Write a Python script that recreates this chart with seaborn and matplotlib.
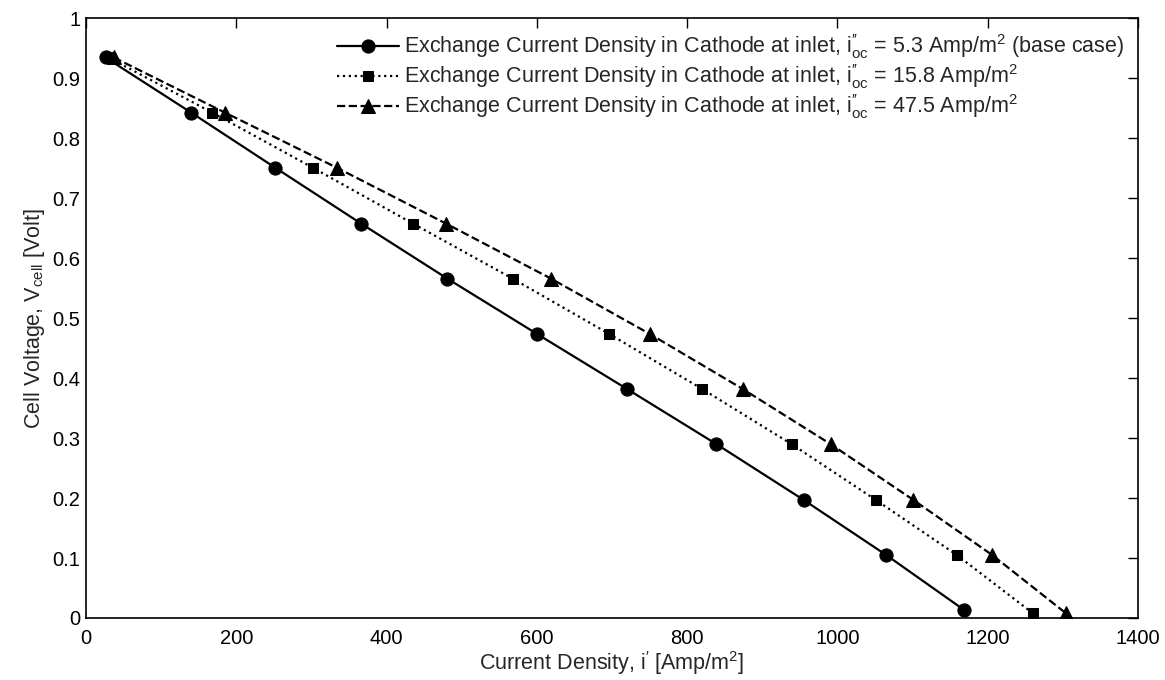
import matplotlib
matplotlib.use("Agg")
import matplotlib.pyplot as plt
import seaborn as sns
import pandas as pd

# Polarization curves for three cathode exchange current densities
voltage = [0.935, 0.843, 0.751, 0.658, 0.566, 0.474, 0.382, 0.290, 0.197, 0.105, 0.013]
current_base = [26, 140, 252, 366, 481, 600, 720, 839, 955, 1065, 1169]
current_mid = [30, 168, 302, 435, 568, 696, 820, 939, 1051, 1159, 1260]
current_high = [37, 185, 334, 479, 619, 750, 874, 991, 1101, 1206, 1304]
voltage_end = [0.935, 0.843, 0.751, 0.658, 0.566, 0.474, 0.382, 0.290, 0.197, 0.105, 0.008]

x_ticks = [0, 200, 400, 600, 800, 1000, 1200, 1400]
y_ticks = [0, 0.1, 0.2, 0.3, 0.4, 0.5, 0.6, 0.7, 0.8, 0.9, 1]
y_tick_labels = ["0", "0.1", "0.2", "0.3", "0.4", "0.5", "0.6", "0.7", "0.8", "0.9", "1"]

iocs = r"$\mathregular{i^{\prime\prime}_{oc}}$"
labels = [
    f"Exchange Current Density in Cathode at inlet, {iocs} = 5.3 Amp/m$^2$ (base case)",
    f"Exchange Current Density in Cathode at inlet, {iocs} = 15.8 Amp/m$^2$",
    f"Exchange Current Density in Cathode at inlet, {iocs} = 47.5 Amp/m$^2$",
]

sns.set_theme(style="white")
plt.rcParams["font.family"] = ["Liberation Sans", "DejaVu Sans"]
plt.rcParams["mathtext.fontset"] = "custom"
plt.rcParams["mathtext.rm"] = "Liberation Sans"
plt.rcParams["mathtext.it"] = "Liberation Sans"

fig = plt.figure(figsize=(11.65, 6.8), dpi=100)
ax = fig.add_axes([0.0738, 0.0912, 0.903, 0.8816])

series = [
    (current_base, voltage, "-", "o", 9.5),
    (current_mid, voltage_end, ":", "s", 7.5),
    (current_high, voltage_end, "--", "^", 10.5),
]
for (xs, ys, ls, mk, ms), lab in zip(series, labels):
    df = pd.DataFrame({"i": xs, "V": ys})
    sns.lineplot(data=df, x="i", y="V", ax=ax, color="black", linestyle=ls,
                 marker=mk, markersize=ms, markeredgecolor="black",
                 linewidth=1.6, label=lab, sort=False, estimator=None)

ax.set_xlim(0, 1400)
ax.set_ylim(0, 1)
ax.set_xticks(x_ticks)
ax.set_yticks(y_ticks)
ax.set_yticklabels(y_tick_labels)
ax.tick_params(direction="in", length=7, width=1, top=True, right=True,
               labelsize=14.5, colors="black")
ax.tick_params(axis="x", pad=8)
ax.tick_params(axis="y", pad=4)
for sp in ax.spines.values():
    sp.set_color("black")
    sp.set_linewidth(1.2)

ax.set_xlabel(r"Current Density, i$^{\prime}$ [Amp/m$^2$]", fontsize=15.5, labelpad=1)
ax.set_ylabel(r"Cell Voltage, V$_{\mathregular{cell}}$ [Volt]", fontsize=15.5, labelpad=4)

leg = ax.legend(loc="upper right", frameon=False, fontsize=15.5, handlelength=2.9,
                handletextpad=0.2, labelspacing=0.05, borderaxespad=0.3,
                borderpad=0.35)

fig.savefig("out.png", dpi=100, facecolor="white")
